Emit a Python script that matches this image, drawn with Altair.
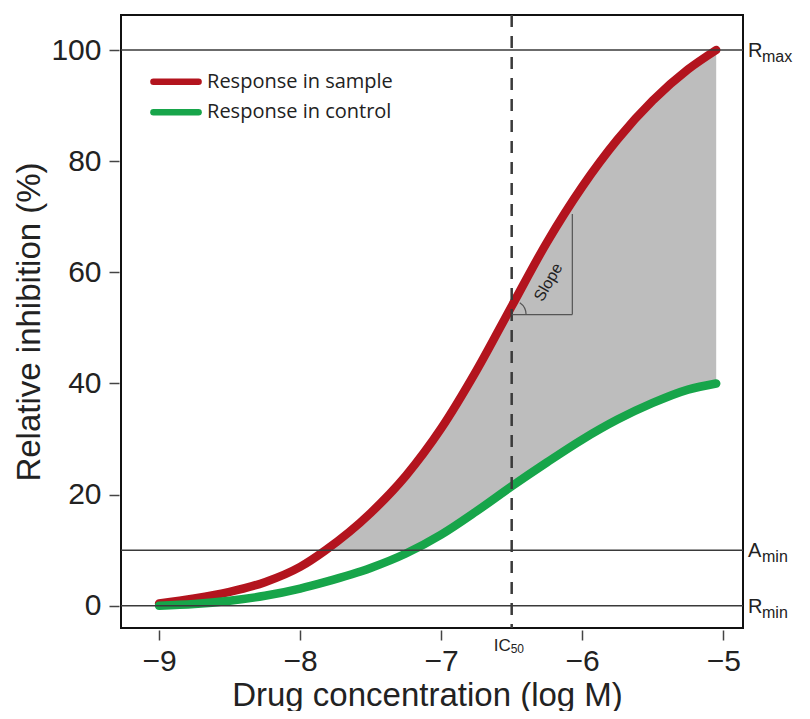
import altair as alt
import pandas as pd

# ---- data ----
conc = [-9, -8.75, -8.5, -8.25, -8.0, -7.82, -7.5, -7.25, -7.0, -6.75, -6.5, -6.25, -6.0, -5.75, -5.5, -5.25, -5.05]
sample = [0.4, 1.3, 2.5, 4.25, 7.0, 10, 16.7, 23.4, 31.9, 42.3, 53.9, 65.4, 75.4, 83.9, 90.9, 96.5, 100]
control = [0, 0.3, 0.9, 1.8, 3.1, 4.3, 6.8, 9.4, 12.8, 17.0, 21.5, 25.8, 29.9, 33.5, 36.5, 38.9, 40]
series_names = ["Response in sample", "Response in control"]
series_colors = ["#b3141e", "#17a54a"]

ref_levels = [100, 10, 0]
ref_main = ["R", "A", "R"]
ref_sub = ["max", "min", "min"]
amin = 10
ic50 = -6.5

slope_x = [-6.5, -6.07]
slope_y = [52.4, 70.5]

legend_x = [-9.04, -8.72, -8.66]
legend_y = [94.3, 88.8]

x_ticks = [-9, -8, -7, -6, -5]
y_ticks = [0, 20, 40, 60, 80, 100]
x_domain = [-9.27, -4.86]
y_domain = [-4, 106.3]

W, H = 622, 613
FONT = "Liberation Sans"

# ---- tables ----
curves = pd.DataFrame(
    [{"conc": c, "value": s, "series": series_names[0]} for c, s in zip(conc, sample)]
    + [{"conc": c, "value": g, "series": series_names[1]} for c, g in zip(conc, control)]
)
area_df = pd.DataFrame({"conc": conc, "top": sample, "bottom": [max(g, amin) for g in control]})
area_df = area_df[area_df["top"] >= amin]

refs = pd.DataFrame({"level": ref_levels, "main": ref_main, "sub": ref_sub, "xr": x_domain[1]})

xs = alt.Scale(domain=x_domain, nice=False, zero=False)
ys = alt.Scale(domain=y_domain, nice=False, zero=False)

X = alt.X("conc:Q", scale=xs,
          axis=alt.Axis(values=x_ticks, format="d", title="Drug concentration (log M)", titleX=W / 2 - 5))
Y = alt.Y("value:Q", scale=ys,
          axis=alt.Axis(values=y_ticks, format="d", title="Relative inhibition (%)"))

area = alt.Chart(area_df).mark_area(color="#bdbdbd", interpolate="monotone").encode(
    x=alt.X("conc:Q", scale=xs), y=alt.Y("top:Q", scale=ys), y2="bottom:Q"
)

lines = alt.Chart(curves).mark_line(strokeWidth=8.5, strokeCap="round", interpolate="monotone").encode(
    x=X, y=Y,
    color=alt.Color("series:N", scale=alt.Scale(domain=series_names, range=series_colors), legend=None),
)

hlines = alt.Chart(refs).mark_rule(color="#3a3a3a", strokeWidth=1.6).encode(
    y=alt.Y("level:Q", scale=ys), x=alt.value(0), x2=alt.value(W)
)

ic_df = pd.DataFrame({"conc": [ic50]})
vline = alt.Chart(ic_df).mark_rule(color="#3a3a3a", strokeWidth=2.5, strokeDash=[12, 9]).encode(
    x=alt.X("conc:Q", scale=xs), y=alt.value(0), y2=alt.value(H)
)

ref_main_txt = alt.Chart(refs).mark_text(align="left", baseline="middle", dx=5, dy=1,
                                         font=FONT, fontSize=20, color="#222").encode(
    x=alt.X("xr:Q", scale=xs), y=alt.Y("level:Q", scale=ys), text="main:N"
)
ref_sub_txt = alt.Chart(refs).mark_text(align="left", baseline="middle", dx=19, dy=7,
                                        font=FONT, fontSize=16, color="#222").encode(
    x=alt.X("xr:Q", scale=xs), y=alt.Y("level:Q", scale=ys), text="sub:N"
)

ic_lab = pd.DataFrame({"conc": [ic50], "y": [y_domain[0]], "main": ["IC"], "sub": ["50"]})
ic_main = alt.Chart(ic_lab).mark_text(align="right", baseline="middle", dx=-1, dy=18,
                                      font=FONT, fontSize=17, color="#222").encode(
    x=alt.X("conc:Q", scale=xs), y=alt.Y("y:Q", scale=ys), text="main:N"
)
ic_sub = alt.Chart(ic_lab).mark_text(align="left", baseline="middle", dx=-1, dy=21,
                                     font=FONT, fontSize=12, color="#222").encode(
    x=alt.X("conc:Q", scale=xs), y=alt.Y("y:Q", scale=ys), text="sub:N"
)

# slope triangle
tri_v = pd.DataFrame({"x": [slope_x[1]], "y": [slope_y[0]], "y2": [slope_y[1]]})
tri_h = pd.DataFrame({"x": [slope_x[0]], "x2": [slope_x[1]], "y": [slope_y[0]]})
tri1 = alt.Chart(tri_v).mark_rule(color="#555", strokeWidth=1.2).encode(
    x=alt.X("x:Q", scale=xs), y=alt.Y("y:Q", scale=ys), y2="y2:Q")
tri2 = alt.Chart(tri_h).mark_rule(color="#555", strokeWidth=1.2).encode(
    x=alt.X("x:Q", scale=xs), x2="x2:Q", y=alt.Y("y:Q", scale=ys))
arc_df = pd.DataFrame({"x": [slope_x[0]], "y": [slope_y[0]]})
arc = alt.Chart(arc_df).mark_arc(radius=15, radius2=13.8, theta=0.6, theta2=1.57, color="#555").encode(
    x=alt.X("x:Q", scale=xs), y=alt.Y("y:Q", scale=ys))
slope_lab = pd.DataFrame({"x": [-6.24], "y": [58.2], "t": ["Slope"]})
slope_txt = alt.Chart(slope_lab).mark_text(angle=300, font=FONT, fontSize=16, color="#222",
                                           align="center", baseline="middle").encode(
    x=alt.X("x:Q", scale=xs), y=alt.Y("y:Q", scale=ys), text="t:N")

# legend
leg = pd.DataFrame({"x": [legend_x[0]] * 2, "x2": [legend_x[1]] * 2, "xt": [legend_x[2]] * 2,
                    "y": legend_y, "series": series_names})
leg_lines = alt.Chart(leg).mark_rule(strokeWidth=6.5, strokeCap="round").encode(
    x=alt.X("x:Q", scale=xs), x2="x2:Q", y=alt.Y("y:Q", scale=ys),
    color=alt.Color("series:N", scale=alt.Scale(domain=series_names, range=series_colors), legend=None))
leg_text = alt.Chart(leg).mark_text(align="left", baseline="middle", font="Open Sans", fontSize=20,
                                    color="#222").encode(
    x=alt.X("xt:Q", scale=xs), y=alt.Y("y:Q", scale=ys), text="series:N")

chart = alt.layer(
    area, lines, hlines, vline, tri1, tri2, arc, slope_txt,
    ref_main_txt, ref_sub_txt, ic_main, ic_sub, leg_lines, leg_text
).properties(
    width=W, height=H,
    autosize=alt.AutoSizeParams(type="none"),
    padding={"left": 113, "top": 7, "right": 59, "bottom": 83},
).configure_view(
    stroke="#111", strokeWidth=2
).configure_axis(
    domain=False, grid=False, tickColor="#444", tickWidth=1.5, tickSize=10, offset=2,
    labelFont=FONT, labelFontSize=30, labelColor="#222",
    titleFont=FONT, titleFontSize=33, titleFontWeight="normal", titleColor="#222",
)
chart = chart.configure_axisY(titlePadding=4, labelPadding=8).configure_axisX(titlePadding=3, labelPadding=6)

chart.save("out.html", embed_options={"renderer": "svg", "actions": False})
